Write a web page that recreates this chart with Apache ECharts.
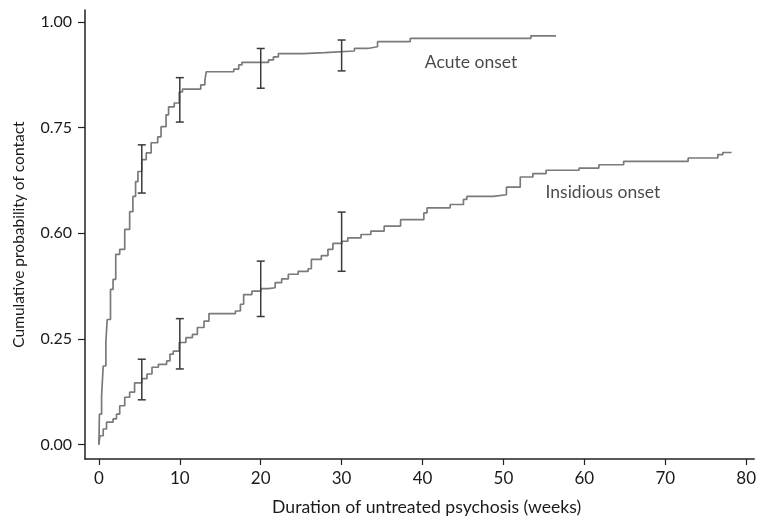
<!DOCTYPE html>
<html>
<head>
<meta charset="utf-8">
<title>Cumulative probability of contact</title>
<script src="https://cdn.jsdelivr.net/npm/echarts@6/dist/echarts.min.js"></script>
<style>
  html, body { margin: 0; padding: 0; background: #fff; }
  #chart { width: 759px; height: 521px; }
</style>
</head>
<body>
<div id="chart"></div>
<script>
// step curves, [weeks, cumulative probability]
var acuteCurve = [
  [0, 0], [0.06, 0.072], [0.33, 0.115], [0.53, 0.186], [0.86, 0.242], [1.02, 0.296],
  [1.43, 0.367], [1.75, 0.391], [2.08, 0.45], [2.57, 0.462], [3.19, 0.509], [3.8, 0.551],
  [4.2, 0.587], [4.53, 0.622], [4.82, 0.646], [5.3, 0.674], [5.85, 0.69], [6.46, 0.714],
  [7.27, 0.728], [7.68, 0.752], [8.3, 0.78], [8.61, 0.799], [9.31, 0.808], [9.93, 0.834],
  [10.33, 0.841], [12.59, 0.851], [13.1, 0.862], [13.27, 0.882], [16.67, 0.888],
  [17.28, 0.898], [17.68, 0.904], [20.96, 0.91], [21.57, 0.917], [22.18, 0.925],
  [25.25, 0.927], [27.9, 0.931], [31.58, 0.937], [33.21, 0.941], [34.44, 0.953],
  [38.48, 0.961], [53.4, 0.967], [56.5, 0.967]
];
var insidiousCurve = [
  [0, 0], [0.12, 0.021], [0.53, 0.037], [0.94, 0.053], [1.75, 0.061], [2.17, 0.072],
  [2.57, 0.092], [3.19, 0.112], [3.8, 0.124], [4.41, 0.146], [5.3, 0.156], [5.94, 0.167],
  [6.56, 0.183], [7.35, 0.19], [8.37, 0.198], [8.78, 0.214], [9.19, 0.221], [9.93, 0.2415],
  [10.75, 0.253], [11.56, 0.261], [12.17, 0.277], [12.99, 0.292], [13.6, 0.31],
  [16.87, 0.316], [17.49, 0.332], [17.89, 0.355], [18.91, 0.363], [20.01, 0.369],
  [20.96, 0.371], [21.78, 0.383], [22.59, 0.392], [23.41, 0.403], [24.63, 0.41],
  [25.86, 0.416], [26.26, 0.438], [27.49, 0.447], [28.31, 0.462], [28.92, 0.476],
  [30.02, 0.481], [30.76, 0.489], [32.39, 0.497], [33.61, 0.505], [35.26, 0.517],
  [37.29, 0.532], [40.16, 0.548], [40.56, 0.56], [43.42, 0.568], [45.06, 0.58],
  [45.47, 0.587], [48.74, 0.591], [50.37, 0.609], [52.08, 0.633], [53.64, 0.641],
  [55.27, 0.649], [59.35, 0.654], [61.8, 0.662], [64.86, 0.67], [72.83, 0.678],
  [76.5, 0.686], [77.12, 0.691], [78.2, 0.691]
];

// error bars, [weeks, low, high]
var acuteBars = [[5.3, 0.595, 0.709], [10, 0.763, 0.868], [20, 0.843, 0.937], [30, 0.884, 0.957]];
var insidiousBars = [[5.3, 0.106, 0.202], [10, 0.179, 0.298], [20, 0.303, 0.434], [30, 0.41, 0.55]];

// curve labels, [weeks, probability, text]
var curveLabels = [[46.0, 0.903, 'Acute onset'], [62.3, 0.596, 'Insidious onset']];

var xTicks = [0, 10, 20, 30, 40, 50, 60, 70, 80];
var yTicks = [0, 0.25, 0.5, 0.75, 1];
var yTickLabels = ['0.00', '0.25', '0.60', '0.75', '1.00'];

var FONT = 'Lato';
var INK = '#1a1a1a';
var chart = echarts.init(document.getElementById('chart'));

function errorBar(params, api) {
  var x = api.value(0);
  var lo = api.coord([x, api.value(1)]);
  var hi = api.coord([x, api.value(2)]);
  var hw = 4;
  var st = { stroke: '#3a3a3a', lineWidth: 1.5 };
  return {
    type: 'group',
    children: [
      { type: 'line', shape: { x1: lo[0], y1: lo[1], x2: hi[0], y2: hi[1] }, style: st },
      { type: 'line', shape: { x1: hi[0] - hw, y1: hi[1], x2: hi[0] + hw, y2: hi[1] }, style: st },
      { type: 'line', shape: { x1: lo[0] - hw, y1: lo[1], x2: lo[0] + hw, y2: lo[1] }, style: st }
    ]
  };
}

var option = {
  animation: false,
  backgroundColor: '#fff',
  grid: { left: 85, top: 10, right: 0, bottom: 61 },
  xAxis: {
    type: 'value',
    min: -1.72,
    max: 81,
    name: 'Duration of untreated psychosis (weeks)',
    nameLocation: 'middle',
    nameGap: 39,
    nameTextStyle: { fontFamily: FONT, fontSize: 17.6, color: INK, padding: [0, 0, 0, 14] },
    axisLine: { onZero: false, lineStyle: { color: '#222', width: 1.5 } },
    axisTick: { customValues: xTicks, length: 6, lineStyle: { color: '#222', width: 1.2 } },
    axisLabel: { customValues: xTicks, margin: 11, fontFamily: FONT, fontSize: 17, color: INK },
    splitLine: { show: false }
  },
  yAxis: {
    type: 'value',
    min: -0.034,
    max: 1.028,
    name: 'Cumulative probability of contact',
    nameLocation: 'middle',
    nameGap: 58,
    nameTextStyle: { fontFamily: FONT, fontSize: 15.5, color: INK },
    axisLine: { show: true, onZero: false, lineStyle: { color: '#222', width: 1.5 } },
    axisTick: { show: true, customValues: yTicks, length: 7, lineStyle: { color: '#222', width: 1.2 } },
    axisLabel: {
      customValues: yTicks, margin: 13, fontFamily: FONT, fontSize: 16, color: INK,
      formatter: function (v) { return yTickLabels[yTicks.indexOf(v)]; }
    },
    splitLine: { show: false }
  },
  series: [
    {
      type: 'line', data: acuteCurve, step: 'end', showSymbol: false,
      lineStyle: { color: '#7a7a7a', width: 1.7 }
    },
    {
      type: 'line', data: insidiousCurve, step: 'end', showSymbol: false,
      lineStyle: { color: '#7a7a7a', width: 1.7 }
    },
    { type: 'custom', renderItem: errorBar, data: acuteBars, z: 5 },
    { type: 'custom', renderItem: errorBar, data: insidiousBars, z: 5 },
    {
      type: 'scatter', symbolSize: 0, silent: true,
      data: curveLabels,
      label: {
        show: true, position: 'inside', fontFamily: FONT, fontSize: 17.5, color: INK,
        formatter: function (p) { return p.value[2]; }
      }
    }
  ]
};
chart.setOption(option);
</script>
</body>
</html>
